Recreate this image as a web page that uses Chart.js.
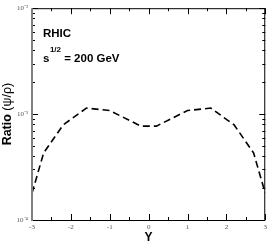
<!DOCTYPE html>
<html>
<head>
<meta charset="utf-8">
<script src="https://cdn.jsdelivr.net/npm/chart.js@4"></script>
<style>
  body { margin: 0; background: #fff; }
  canvas { display: block; }
</style>
</head>
<body>
<canvas id="myChart" width="270" height="242"></canvas>
<script>
// rapidity values and psi/rho ratio
const rapidity = [-3, -2.7, -2.2, -1.6, -1, -0.2, 0, 0.2, 1, 1.6, 2.2, 2.7, 3];
const ratio = [1.79e-4, 4.3e-4, 7.9e-4, 1.14e-3, 1.08e-3, 7.7e-4, 7.7e-4, 7.7e-4, 1.08e-3, 1.14e-3, 7.9e-4, 4.3e-4, 1.79e-4];

const xMajorTicks = [-3, -2, -1, 0, 1, 2, 3];
const xMinorTicks = [-2.5, -1.5, -0.5, 0.5, 1.5, 2.5];
const yMajorTicks = [1e-4, 1e-3, 1e-2];
const yMinorTicks = [2e-4, 3e-4, 4e-4, 5e-4, 6e-4, 7e-4, 8e-4, 9e-4,
                     2e-3, 3e-3, 4e-3, 5e-3, 6e-3, 7e-3, 8e-3, 9e-3];
const yTickLabels = { 1e-4: '10\u207B\u2074', 1e-3: '10\u207B\u00B3', 1e-2: '10\u207B\u00B2' };

const tickFont = { family: 'Liberation Serif', size: 7 };
const tickColor = '#555';

// frame, inward ticks on all four sides and the text labels
const framePlugin = {
  id: 'frame',
  afterDraw(chart) {
    const ctx = chart.ctx;
    const a = chart.chartArea;
    const xs = chart.scales.x;
    const ys = chart.scales.y;
    ctx.save();

    ctx.strokeStyle = '#000';
    ctx.lineWidth = 1;
    ctx.beginPath();
    xMajorTicks.concat(xMinorTicks).forEach(v => {
      const px = Math.round(xs.getPixelForValue(v)) + 0.5;
      const len = xMajorTicks.includes(v) ? 6 : 3;
      ctx.moveTo(px, a.bottom); ctx.lineTo(px, a.bottom - len);
      ctx.moveTo(px, a.top); ctx.lineTo(px, a.top + len);
    });
    yMajorTicks.concat(yMinorTicks).forEach(v => {
      const py = Math.round(ys.getPixelForValue(v)) + 0.5;
      const len = yMajorTicks.includes(v) ? 6 : 3;
      ctx.moveTo(a.left, py); ctx.lineTo(a.left + len, py);
      ctx.moveTo(a.right, py); ctx.lineTo(a.right - len, py);
    });
    ctx.stroke();

    ctx.beginPath();
    ctx.moveTo(a.left, a.top + 0.5); ctx.lineTo(a.right - 0.5, a.top + 0.5);
    ctx.lineTo(a.right - 0.5, a.bottom + 0.5); ctx.lineTo(a.left, a.bottom + 0.5);
    ctx.stroke();

    ctx.strokeStyle = '#808080';
    ctx.lineWidth = 2;
    ctx.beginPath();
    ctx.moveTo(a.left, a.top); ctx.lineTo(a.left, a.bottom + 1);
    ctx.stroke();

    // annotation
    ctx.fillStyle = '#000';
    ctx.textBaseline = 'alphabetic';
    ctx.textAlign = 'left';
    ctx.font = 'bold 11.5px "Liberation Sans"';
    ctx.fillText('RHIC', 43, 37);
    ctx.fillText('s', 43, 62);
    let sx = 43 + ctx.measureText('s').width + 0.5;
    ctx.font = 'bold 8px "Liberation Sans"';
    ctx.fillText('1/2', sx, 52);
    sx += ctx.measureText('1/2').width;
    ctx.font = 'bold 11.5px "Liberation Sans"';
    ctx.fillText(' = 200 GeV', sx, 62);

    // x title
    ctx.font = 'bold 12px "Liberation Sans"';
    ctx.textAlign = 'center';
    ctx.fillText('Y', (a.left + a.right) / 2, 241);

    // y title, bold "Ratio" and plain "(ψ/ρ)"
    ctx.translate(11, (a.top + a.bottom) / 2);
    ctx.rotate(-Math.PI / 2);
    ctx.textAlign = 'left';
    const boldF = 'bold 12.5px "Liberation Sans"';
    const normF = '12.5px "Liberation Sans"';
    ctx.font = boldF;
    const w1 = ctx.measureText('Ratio ').width;
    ctx.font = normF;
    const w2 = ctx.measureText('(\u03C8/\u03C1)').width;
    const start = -(w1 + w2) / 2;
    ctx.font = boldF;
    ctx.fillText('Ratio ', start, 0);
    ctx.font = normF;
    ctx.fillText('(\u03C8/\u03C1)', start + w1, 0);

    ctx.restore();
  }
};

const config = {
  type: 'line',
  data: {
    datasets: [{
      label: 'psi/rho',
      data: rapidity.map((y, i) => ({ x: y, y: ratio[i] })),
      borderColor: '#000',
      borderWidth: 1.6,
      borderDash: [7, 4],
      pointRadius: 0,
      tension: 0,
      fill: false
    }]
  },
  options: {
    responsive: false,
    animation: false,
    devicePixelRatio: 1,
    layout: { padding: { top: 4, right: 2, left: 0, bottom: 0 } },
    scales: {
      x: {
        type: 'linear',
        min: -3,
        max: 3,
        afterBuildTicks(scale) { scale.ticks = xMajorTicks.map(v => ({ value: v })); },
        afterFit(scale) { scale.height = 22; },
        grid: { display: false, drawTicks: false },
        border: { display: false },
        ticks: {
          font: tickFont,
          color: tickColor,
          padding: 3,
          autoSkip: false,
          maxRotation: 0,
          callback: v => String(v)
        }
      },
      y: {
        type: 'logarithmic',
        min: 1e-4,
        max: 1e-2,
        afterBuildTicks(scale) { scale.ticks = yMajorTicks.map(v => ({ value: v })); },
        afterFit(scale) { scale.width = 32; },
        grid: { display: false, drawTicks: false },
        border: { display: false },
        ticks: {
          font: tickFont,
          color: tickColor,
          padding: 4,
          autoSkip: false,
          callback: v => yTickLabels[v] || ''
        }
      }
    },
    plugins: {
      legend: { display: false },
      tooltip: { enabled: false }
    }
  },
  plugins: [framePlugin]
};

const myChart = new Chart(document.getElementById('myChart'), config);
</script>
</body>
</html>
